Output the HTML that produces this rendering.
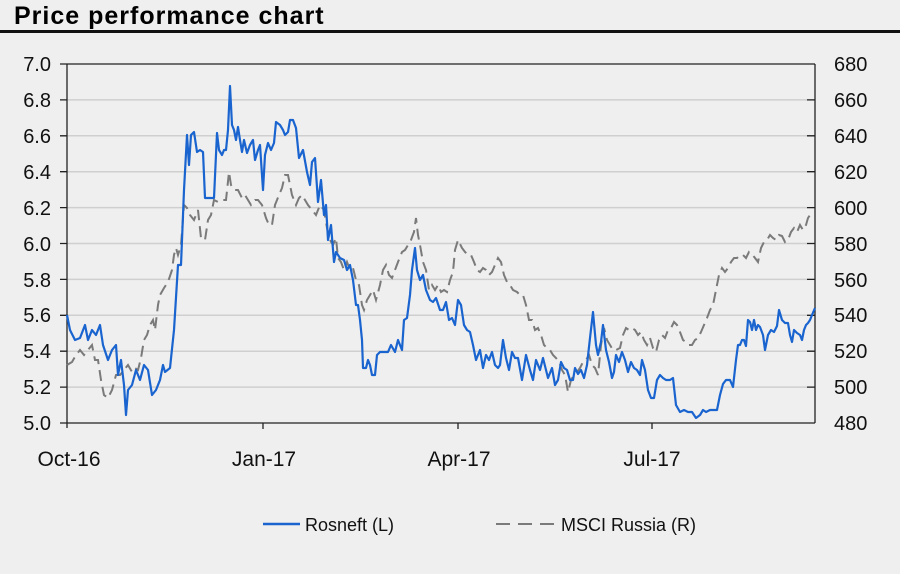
<!DOCTYPE html>
<html><head><meta charset="utf-8"><style>
html,body{margin:0;padding:0;background:#efefef;}
body{width:900px;height:569px;overflow:hidden;font-family:"Liberation Sans",Arial,sans-serif;}
</style></head><body>
<svg width="900" height="569" xmlns="http://www.w3.org/2000/svg" font-family="Liberation Sans, Arial, sans-serif">
<rect width="900" height="569" fill="#efefef"/>
<text x="14" y="24" font-size="25" font-weight="bold" letter-spacing="1" fill="#000">Price performance chart</text>
<rect x="0" y="30" width="900" height="3" fill="#111"/>
<g stroke="#cfcfcf" stroke-width="1.5">
<line x1="67" y1="99.9" x2="815" y2="99.9"/><line x1="67" y1="135.8" x2="815" y2="135.8"/>
<line x1="67" y1="171.7" x2="815" y2="171.7"/><line x1="67" y1="207.6" x2="815" y2="207.6"/>
<line x1="67" y1="243.5" x2="815" y2="243.5"/><line x1="67" y1="279.4" x2="815" y2="279.4"/>
<line x1="67" y1="315.3" x2="815" y2="315.3"/><line x1="67" y1="351.2" x2="815" y2="351.2"/>
<line x1="67" y1="387.1" x2="815" y2="387.1"/>
</g>
<g stroke="#222" stroke-width="1.3" fill="none">
<line x1="67" y1="64" x2="815" y2="64"/>
<line x1="67" y1="64" x2="67" y2="428"/>
<line x1="815" y1="64" x2="815" y2="423"/>
<line x1="60" y1="423" x2="815" y2="423"/>
<path d="M60 64h7M60 99.9h7M60 135.8h7M60 171.7h7M60 207.6h7M60 243.5h7M60 279.4h7M60 315.3h7M60 351.2h7M60 387.1h7"/>
<path d="M807 99.9h8M807 135.8h8M807 171.7h8M807 207.6h8M807 243.5h8M807 279.4h8M807 315.3h8M807 351.2h8M807 387.1h8"/>
<path d="M263 423v6M458 423v6M652 423v6"/>
</g>
<g font-size="20" fill="#111" text-anchor="end">
<text x="51" y="71">7.0</text><text x="51" y="107">6.8</text><text x="51" y="143">6.6</text>
<text x="51" y="179">6.4</text><text x="51" y="215">6.2</text><text x="51" y="251">6.0</text>
<text x="51" y="287">5.8</text><text x="51" y="322">5.6</text><text x="51" y="358">5.4</text>
<text x="51" y="394">5.2</text><text x="51" y="430">5.0</text>
</g>
<g font-size="20" fill="#111">
<text x="834" y="71">680</text><text x="834" y="107">660</text><text x="834" y="143">640</text>
<text x="834" y="179">620</text><text x="834" y="215">600</text><text x="834" y="251">580</text>
<text x="834" y="287">560</text><text x="834" y="322">540</text><text x="834" y="358">520</text>
<text x="834" y="394">500</text><text x="834" y="430">480</text>
</g>
<g font-size="21" fill="#111" text-anchor="middle">
<text x="69" y="466">Oct-16</text><text x="264" y="466">Jan-17</text>
<text x="459" y="466">Apr-17</text><text x="652" y="466">Jul-17</text>
</g>
<polyline fill="none" stroke="#7a7a7a" stroke-width="2" stroke-dasharray="11,6" points="67,365 72,362 76,355 80,350 84,355 88,350 92,345 95,360 98,360 101,380 104,395 108,398 112,390 116,375 120,375 124,370 128,365 132,372 135,368 138,370 141,358 144,340 147,335 150,325 153,320 155,330 158,305 160,295 164,288 168,282 172,270 174,255 176,248 178,255 181,245 184,205 187,208 190,215 194,220 198,210 201,238 205,240 208,220 211,215 214,200 218,202 222,200 226,200 229,172 231,185 234,190 238,190 242,198 245,195 248,200 251,205 255,200 258,200 262,205 266,218 269,225 272,225 275,205 279,195 282,188 285,175 288,175 292,195 296,205 299,198 302,195 305,200 308,205 312,210 316,215 320,205 324,210 327,228 330,240 333,245 336,238 338,258 341,262 344,270 347,262 350,270 353,268 356,280 359,285 362,305 364,310 367,300 370,295 373,290 376,300 380,285 383,270 386,265 389,275 392,278 395,270 398,262 402,252 405,250 408,245 411,240 414,232 416,218 418,235 420,245 423,262 426,270 429,290 432,285 435,290 438,285 441,292 444,290 447,292 450,280 453,272 455,250 458,240 462,248 465,252 468,255 471,255 474,262 477,270 480,272 483,268 486,270 489,275 492,272 495,265 498,258 501,262 504,275 507,282 510,285 513,290 517,292 520,295 523,295 526,305 529,320 532,320 535,330 538,328 541,335 544,345 547,348 550,350 553,355 556,358 559,362 562,370 565,375 568,392 571,380 574,375 577,372 580,368 583,362 586,360 589,355 592,365 595,368 598,375 601,345 604,328 607,340 610,345 613,350 616,350 620,348 623,335 626,328 629,330 632,328 635,330 638,335 641,332 644,340 647,345 650,338 653,348 656,352 659,340 662,335 665,338 668,330 671,328 674,322 677,325 680,332 683,340 686,342 689,345 692,345 695,340 698,338 701,332 704,325 707,318 710,310 713,305 716,290 719,275 722,268 725,272 728,268 731,262 734,258 737,258 740,255 743,255 746,258 749,252 752,254 755,258 758,262 761,248 764,242 767,240 770,235 773,238 776,240 779,235 782,236 785,242 788,240 791,232 794,228 797,232 800,225 803,230 806,225 808,218 810,215"/>
<polyline fill="none" stroke="#1a64d0" stroke-width="2.2" stroke-linejoin="round" points="67,315 70,330 75,340 80,338 85,325 88,340 92,330 96,335 100,325 103,345 108,360 112,350 116,345 118,375 121,360 124,385 126,415 128,390 132,385 136,370 140,380 144,365 148,370 152,395 156,390 160,380 163,365 165,372 170,368 174,330 178,265 181,265 184,190 187,135 189,165 191,135 194,132 197,152 200,150 203,152 205,198 210,198 214,198 217,133 219,150 222,155 224,150 226,150 228,130 230,86 232,125 234,130 236,140 238,127 240,140 242,152 244,140 247,153 250,145 253,140 255,160 258,150 260,145 263,190 265,155 268,143 271,150 274,143 276,122 280,125 283,130 285,135 288,132 290,120 293,120 296,128 299,158 303,150 307,172 310,185 312,162 315,158 318,202 321,180 324,215 326,205 328,240 331,225 334,262 336,252 340,258 344,260 347,270 350,265 353,280 356,305 358,305 360,320 362,340 363,368 366,368 368,360 370,365 372,375 375,375 377,355 380,352 384,352 388,352 391,345 395,352 398,340 400,345 402,350 404,320 407,318 410,295 412,270 415,248 417,270 420,280 423,275 426,290 430,300 433,302 436,298 440,310 443,310 446,302 449,320 452,318 455,325 458,300 461,305 464,325 467,330 470,332 473,345 476,360 480,350 483,368 486,355 489,360 492,352 495,365 498,368 500,365 503,340 506,358 509,370 512,352 515,358 518,358 522,380 526,355 530,370 533,380 536,360 540,370 543,358 546,370 548,378 552,368 555,385 558,380 561,362 564,368 567,370 570,380 573,380 575,368 578,374 581,370 584,378 587,365 590,338 593,312 596,345 598,355 601,342 603,325 606,350 609,362 612,378 614,372 616,355 619,362 622,352 625,360 628,372 631,362 634,368 637,370 640,375 642,360 645,370 648,390 651,398 654,398 657,380 660,375 663,378 666,380 670,380 673,378 676,405 680,412 684,410 688,412 692,412 696,418 700,415 703,410 706,412 710,410 714,410 717,410 720,395 723,384 726,380 730,380 733,387 736,360 738,345 740,345 742,340 744,340 746,346 748,320 750,322 752,330 754,320 756,330 758,325 760,327 763,335 765,350 768,335 771,330 774,332 777,326 779,310 782,320 785,323 788,323 790,335 792,342 794,330 797,333 800,335 802,340 804,330 806,325 808,323 810,320 812,315 815,308"/>
<line x1="263" y1="524" x2="300" y2="524" stroke="#1a64d0" stroke-width="2.5"/>
<text x="305" y="531" font-size="18" fill="#111">Rosneft (L)</text>
<line x1="496" y1="524" x2="556" y2="524" stroke="#7a7a7a" stroke-width="2" stroke-dasharray="14,8"/>
<text x="561" y="531" font-size="18" fill="#111">MSCI Russia (R)</text>
</svg>
</body></html>
